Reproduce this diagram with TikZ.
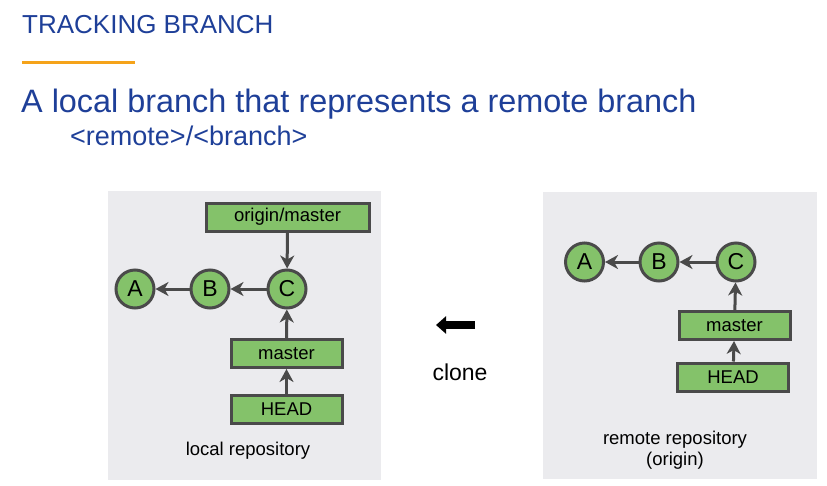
\documentclass[tikz,border=0pt]{standalone}
\usepackage{fontspec}
\setmainfont{Liberation Sans}
\usetikzlibrary{arrows.meta}
\definecolor{titleblue}{HTML}{1E3F98}
\definecolor{panelgray}{HTML}{EBEBEE}
\definecolor{gitgreen}{HTML}{84C26A}
\definecolor{gitline}{HTML}{4A4A4A}
\definecolor{accent}{HTML}{F5A31A}
\tikzset{
  panel/.style={fill=panelgray, draw=none},
  commit/.style={circle, draw=gitline, fill=gitgreen, line width=3pt, minimum size=38pt, inner sep=0pt, font=\fontsize{23}{25}\selectfont},
  ref/.style={rectangle, draw=gitline, fill=gitgreen, line width=3pt, minimum width=111pt, minimum height=28pt, inner sep=0pt, font=\fontsize{18.5}{20}\selectfont},
  link/.style={draw=gitline, line width=3pt, -{Stealth[length=13pt,width=14pt,inset=4pt]}},
  caption/.style={font=\fontsize{18.5}{21}\selectfont, align=center, inner sep=0pt}
}
\begin{document}
\begin{tikzpicture}[x=1pt,y=-1pt]
\useasboundingbox (0,0) rectangle (827,485);
% title
\node[anchor=base west, inner sep=0pt, text=titleblue, font=\fontsize{26}{28}\selectfont] (title) at (22,33) {TRACKING BRANCH};
\draw[accent, line width=3pt] (22,62) -- (135,62);
\node[anchor=base west, inner sep=0pt, text=titleblue, font=\fontsize{32.4}{36}\selectfont] (sub) at (21,112) {A local branch that represents a remote branch};
\node[anchor=base west, inner sep=0pt, text=titleblue, font=\fontsize{27}{30}\selectfont] (sub2) at (70,145) {<remote>/<branch>};
% panels
\fill[panel] (108,191) rectangle (381,480);
\fill[panel] (543,192) rectangle (817,479);
% local repository
\node[ref, minimum width=163pt] (om) at (287.5,217) {origin/master};
\node[commit] (lA) at (135,289) {A};
\node[commit] (lB) at (210,289) {B};
\node[commit] (lC) at (287,289) {C};
\node[ref] (lm) at (286.5,353.5) {master};
\node[ref] (lh) at (286.5,409.5) {HEAD};
\draw[link] (lB) -- (lA);
\draw[link] (lC) -- (lB);
\draw[link] (om) -- (lC);
\draw[link] (lm) -- (lC);
\draw[link] (lh) -- (lm);
\node[caption] (lcap) at (248,451) {local repository};
% clone
\coordinate (cs) at (475,325);
\coordinate (ce) at (436,325);
\draw[line width=8pt, -{Triangle[length=10pt,width=17pt]}] (cs) -- (ce);
\node[inner sep=0pt, font=\fontsize{23}{26}\selectfont] (clone) at (460,372) {clone};
% remote repository
\node[commit] (rA) at (584.5,262) {A};
\node[commit] (rB) at (659,262) {B};
\node[commit] (rC) at (736,262) {C};
\node[ref] (rm) at (734.5,325.5) {master};
\node[ref] (rh) at (733,377) {HEAD};
\draw[link] (rB) -- (rA);
\draw[link] (rC) -- (rB);
\draw[link] (rm) -- (rC);
\draw[link] (rh) -- (rm);
\node[caption] (rcap) at (675,450) {remote repository\\(origin)};
\end{tikzpicture}
\end{document}
